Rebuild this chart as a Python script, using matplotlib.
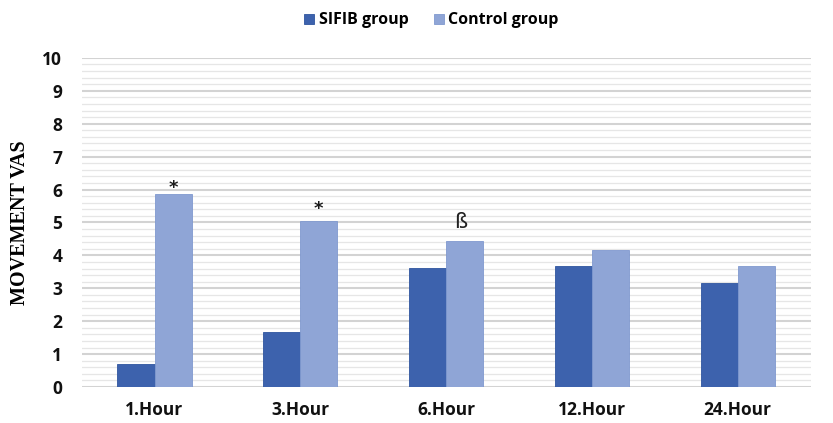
import matplotlib
matplotlib.use("Agg")
import matplotlib.pyplot as plt
import numpy as np

categories = ["1.Hour", "3.Hour", "6.Hour", "12.Hour", "24.Hour"]
sifib = [0.7, 1.67, 3.62, 3.68, 3.17]
control = [5.87, 5.05, 4.44, 4.16, 3.69]
marks = ["*", "*", "ß", "", ""]
mark_gap = [0.18, 0.36, 0.56, 0, 0]
yticks = list(range(0, 11))

c_sifib = "#3d62ad"
c_ctrl = "#8fa5d6"

fig = plt.figure(figsize=(8.33, 4.23), dpi=100)
ax = fig.add_axes([0.098, 0.0851, 0.875, 0.778])

x = np.arange(len(categories))
w = 0.254
ax.bar(x - w / 2, sifib, w, color=c_sifib, edgecolor="#2f559f", linewidth=0.6, label="SIFIB group", zorder=3)
ax.bar(x + w / 2, control, w, color=c_ctrl, edgecolor="#8099cf", linewidth=0.6, label="Control group", zorder=3)

for xi, v, m, g in zip(x, control, marks, mark_gap):
    if m == "*":
        ax.text(xi + w / 2, v + g, m, ha="center", va="center",
                fontsize=13, fontweight="bold", color="#1a1a1a", family="DejaVu Sans")
    elif m:
        ax.text(xi + w / 2 - 0.03, v + g, m, ha="center", va="center",
                fontsize=15, color="#222222", family="DejaVu Sans")

ax.set_xlim(-0.5, len(categories) - 0.5)
ax.set_ylim(0, 10)
ax.set_yticks(yticks)
ax.set_yticks(np.arange(0, 10.01, 0.2), minor=True)
ax.grid(axis="y", which="major", color="#d3d3d3", linewidth=1.5, zorder=0)
ax.grid(axis="y", which="minor", color="#e6e6e6", linewidth=0.9, zorder=0)
ax.tick_params(axis="both", which="both", length=0)
ax.set_xticks(x)
ax.set_xticklabels(categories, fontsize=12.5, fontweight="bold", family="Open Sans", color="#111111")
for lab in ax.get_yticklabels():
    lab.set_fontsize(12.5)
    lab.set_fontweight("bold")
    lab.set_family("Open Sans")
    lab.set_color("#111111")
ax.tick_params(axis="x", pad=10)
ax.tick_params(axis="y", pad=14)
for s in ax.spines.values():
    s.set_visible(False)

ax.set_ylabel("MOVEMENT VAS", fontsize=14.5, fontweight="bold", family="Liberation Serif", labelpad=9)

leg = fig.legend(loc="upper center", bbox_to_anchor=(0.518, 1.005), ncol=2, frameon=False,
                 prop={"family": "Open Sans", "weight": "bold", "size": 11.5},
                 handlelength=0.6, handleheight=0.6, handletextpad=0.3, columnspacing=1.6)

fig.savefig("out.png", dpi=100)
